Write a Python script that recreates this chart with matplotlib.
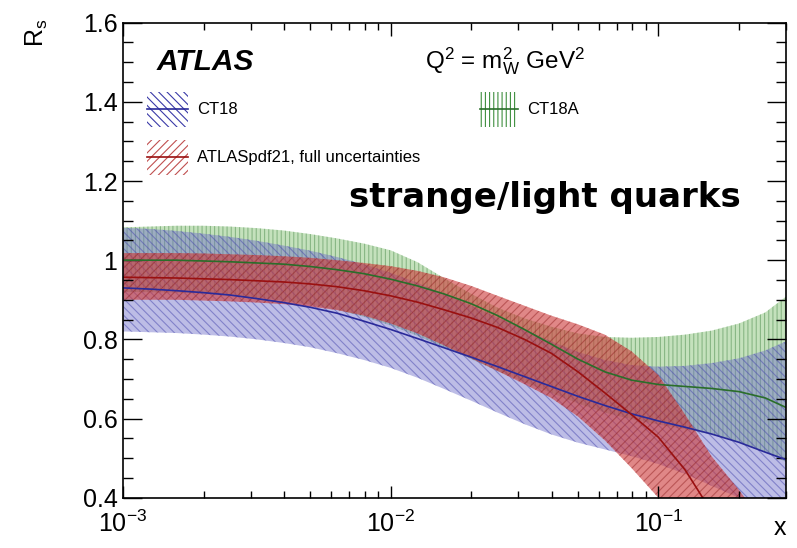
import matplotlib as mpl
mpl.use('Agg')
import matplotlib.pyplot as plt
from matplotlib.patches import Rectangle
from matplotlib.lines import Line2D
from matplotlib.ticker import MultipleLocator, FuncFormatter

# fonts: Helvetica-like everywhere, mathtext included
mpl.rcParams['font.family'] = 'Liberation Sans'
mpl.rcParams['mathtext.fontset'] = 'custom'
mpl.rcParams['mathtext.rm'] = 'Liberation Sans'
mpl.rcParams['mathtext.it'] = 'Liberation Sans:italic'
mpl.rcParams['mathtext.bf'] = 'Liberation Sans:bold'
mpl.rcParams['hatch.linewidth'] = 0.8
mpl.rcParams['axes.linewidth'] = 1.2

# x grid (Bjorken x), 0.1 decade steps
x = [0.001, 0.00126, 0.00158, 0.002, 0.00251, 0.00316, 0.00398,
     0.00501, 0.00631, 0.00794, 0.01, 0.0126, 0.0158, 0.02, 0.0251,
     0.0316, 0.0398, 0.0501, 0.0631, 0.0794, 0.1, 0.126, 0.158, 0.2,
     0.251, 0.3]

# CT18
ct18_mid = [0.930, 0.927, 0.923, 0.918, 0.912, 0.903, 0.893, 0.881,
            0.866, 0.846, 0.825, 0.802, 0.779, 0.755, 0.731, 0.706,
            0.681, 0.656, 0.633, 0.612, 0.594, 0.578, 0.561, 0.540,
            0.515, 0.496]
ct18_lo = [0.820, 0.818, 0.816, 0.812, 0.807, 0.800, 0.791, 0.780,
           0.765, 0.748, 0.728, 0.703, 0.675, 0.645, 0.615, 0.586,
           0.560, 0.539, 0.522, 0.505, 0.485, 0.460, 0.430, 0.400,
           0.370, 0.350]
ct18_hi = [1.082, 1.079, 1.074, 1.067, 1.059, 1.049, 1.037, 1.024,
           1.008, 0.990, 0.968, 0.943, 0.915, 0.885, 0.855, 0.825,
           0.795, 0.768, 0.748, 0.735, 0.731, 0.733, 0.740, 0.752,
           0.772, 0.795]

# CT18A
ct18a_mid = [1.000, 1.000, 1.000, 0.998, 0.996, 0.993, 0.990, 0.984,
             0.976, 0.966, 0.952, 0.935, 0.915, 0.890, 0.860, 0.825,
             0.788, 0.750, 0.718, 0.697, 0.686, 0.681, 0.676, 0.668,
             0.652, 0.628]
ct18a_lo = [0.920, 0.919, 0.918, 0.915, 0.910, 0.905, 0.898, 0.888,
            0.875, 0.857, 0.835, 0.809, 0.780, 0.750, 0.720, 0.692,
            0.665, 0.638, 0.615, 0.598, 0.585, 0.573, 0.560, 0.540,
            0.515, 0.490]
ct18a_hi = [1.083, 1.085, 1.087, 1.087, 1.085, 1.081, 1.075, 1.066,
            1.055, 1.042, 1.025, 0.995, 0.955, 0.915, 0.880, 0.853,
            0.832, 0.815, 0.806, 0.804, 0.806, 0.812, 0.822, 0.840,
            0.868, 0.908]

# ATLASpdf21, full uncertainties
atlas_mid = [0.957, 0.956, 0.955, 0.953, 0.951, 0.948, 0.945, 0.940,
             0.933, 0.923, 0.910, 0.894, 0.875, 0.854, 0.830, 0.800,
             0.765, 0.718, 0.665, 0.610, 0.553, 0.470, 0.365, 0.250,
             0.130, 0.030]
atlas_lo = [0.900, 0.900, 0.900, 0.898, 0.896, 0.893, 0.889, 0.883,
            0.874, 0.860, 0.840, 0.815, 0.785, 0.752, 0.720, 0.687,
            0.652, 0.605, 0.545, 0.475, 0.400, 0.310, 0.210, 0.100,
            0.000, -0.080]
atlas_hi = [1.018, 1.018, 1.018, 1.017, 1.015, 1.013, 1.010, 1.006,
            1.000, 0.993, 0.985, 0.973, 0.957, 0.935, 0.910, 0.885,
            0.860, 0.838, 0.812, 0.770, 0.710, 0.610, 0.505, 0.420,
            0.330, 0.260]

fig = plt.figure(figsize=(7.97, 5.48), dpi=100)
ax = fig.add_axes([0.1543, 0.0918, 0.8319, 0.8668])


def band(lo, hi, fill, alpha, hcol, hatch):
    ax.fill_between(x, lo, hi, facecolor=fill, alpha=alpha, lw=0)
    ax.fill_between(x, lo, hi, facecolor='none', edgecolor=hcol,
                    hatch=hatch, lw=0)


band(ct18a_lo, ct18a_hi, '#b0d8a6', 0.75, (0.30, 0.55, 0.30, 0.5), '||||')
band(ct18_lo, ct18_hi, '#6e6ec8', 0.45, (0.28, 0.28, 0.68, 0.5),
     '\\\\\\\\')
band(atlas_lo, atlas_hi, '#cc3838', 0.6, (0.55, 0.10, 0.10, 0.45), '////')

ax.plot(x, ct18a_mid, color='#2a6e2a', lw=1.2)
ax.plot(x, ct18_mid, color='#2a2a9a', lw=1.2)
ax.plot(x, atlas_mid, color='#9a1010', lw=1.2)

ax.set_xscale('log')
ax.set_xlim(1e-3, 0.3)
ax.set_ylim(0.4, 1.6)
ax.yaxis.set_major_locator(MultipleLocator(0.2))
ax.yaxis.set_minor_locator(MultipleLocator(0.05))
ax.yaxis.set_major_formatter(FuncFormatter(lambda v, p: f'{v:g}'))
ax.tick_params(which='both', direction='in', top=True, right=True,
               width=1.0, labelsize=18)
ax.tick_params(axis='y', which='major', length=14, pad=4)
ax.tick_params(axis='y', which='minor', length=7)
ax.tick_params(axis='x', which='major', length=9, pad=9)
ax.tick_params(axis='x', which='minor', length=5)

# legend boxes drawn by hand (ROOT style)
entries = [
    (0.0362, 0.7804, 0.0618, '\\\\\\\\', '#3a3aa8', '#2a2a9a', 'CT18'),
    (0.0362, 0.6794, 0.0618, '////', '#c05050', '#9a1010',
     'ATLASpdf21, full uncertainties'),
    (0.5385, 0.7804, 0.0573, '||||', '#3f8f3f', '#2a6e2a', 'CT18A'),
]
bh = 0.0737
for x0, y0, w, hatch, hcol, lcol, label in entries:
    ax.add_patch(Rectangle((x0, y0), w, bh, transform=ax.transAxes,
                           fill=False, hatch=hatch, edgecolor=hcol, lw=0))
    ax.add_line(Line2D([x0, x0 + w], [y0 + bh / 2, y0 + bh / 2],
                       transform=ax.transAxes, color=lcol, lw=1.2))
    ax.text(x0 + w + 0.0136, y0 + bh / 2, label, transform=ax.transAxes,
            fontsize=12, va='center', ha='left')

ax.text(0.0513, 0.9004, 'ATLAS', transform=ax.transAxes, fontsize=21.5,
        weight='bold', style='italic', va='baseline')
ax.text(0.4555, 0.9046, r'Q$^{2}$ = m$^{2}_{\mathrm{W}}$ GeV$^{2}$',
        transform=ax.transAxes, fontsize=17.5, va='baseline')
ax.text(0.6365, 0.612, 'strange/light quarks', transform=ax.transAxes,
        fontsize=24.5, family='DejaVu Sans', weight='bold',
        ha='center', va='baseline')

ax.text(1.0, -0.0785, 'x', transform=ax.transAxes, fontsize=18,
        ha='right', va='baseline')
fig.text(0.0464, 0.914, r'R$_{\mathrm{s}}$', fontsize=18, rotation=90,
         ha='center', va='bottom')

fig.savefig('out.png', dpi=100)
